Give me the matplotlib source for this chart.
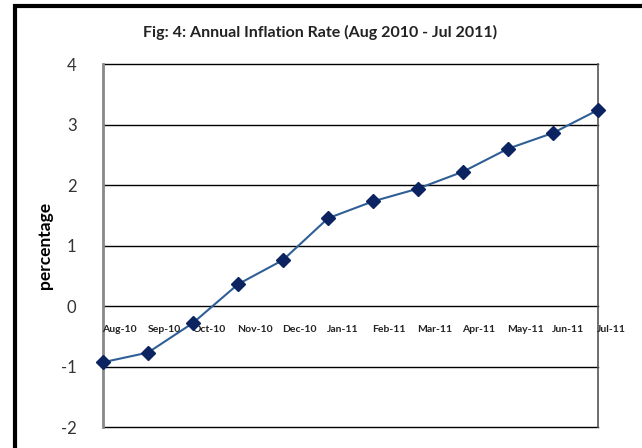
import matplotlib
matplotlib.use('Agg')
import matplotlib.pyplot as plt
from matplotlib.patches import Rectangle

# ---- data ----
months = ['Aug-10', 'Sep-10', 'Oct-10', 'Nov-10', 'Dec-10', 'Jan-11',
          'Feb-11', 'Mar-11', 'Apr-11', 'May-11', 'Jun-11', 'Jul-11']
inflation = [-0.93, -0.77, -0.28, 0.36, 0.76, 1.45,
             1.73, 1.94, 2.22, 2.60, 2.86, 3.24]
y_ticks = [-2, -1, 0, 1, 2, 3, 4]

title = 'Fig: 4: Annual Inflation Rate (Aug 2010 - Jul 2011)'

plt.rcParams['font.family'] = ['Lato', 'DejaVu Sans']
plt.rcParams['axes.unicode_minus'] = False

fig = plt.figure(figsize=(6.42, 4.48), dpi=100)
ax = fig.add_axes([103 / 642, 1 - 427 / 448, 495 / 642, 363 / 448])

# outer black frame (runs off the right/bottom edge in the original)
fig.add_artist(Rectangle((15 / 642, -0.1), 1.2, 1.1 - 6 / 448,
                         transform=fig.transFigure, fill=False,
                         edgecolor='black', linewidth=3, zorder=0))

x = list(range(len(months)))

# horizontal gridlines
for yv in y_ticks:
    ax.axhline(yv, color='black', linewidth=1.0, zorder=1, clip_on=False)

ax.plot(x, inflation, color='#2f5f96', linewidth=1.5, zorder=3)
ax.plot(x, inflation, linestyle='none', marker='D', markersize=7,
        color='#0b2461', zorder=4, clip_on=False)

ax.set_xlim(0, len(months) - 1)
ax.set_ylim(-2, 4)
ax.set_yticks(y_ticks)
ax.set_yticklabels([str(v) for v in y_ticks], fontsize=12, color='#333333')
ax.tick_params(axis='y', length=0, pad=19)
ax.set_xticks([])

for side in ['top', 'bottom']:
    ax.spines[side].set_visible(False)
ax.spines['left'].set_color('#888888')
ax.spines['left'].set_linewidth(2)
ax.spines['right'].set_color('#555555')
ax.spines['right'].set_linewidth(1.2)

# category labels sit just under the zero line
for xi, lab in zip(x, months):
    ax.annotate(lab, (xi, 0), xytext=(-0.5, -17), textcoords='offset points',
                ha='left', va='center', fontsize=7.5, fontweight='bold',
                color='#222222', annotation_clip=False)

ax.set_ylabel('percentage', fontsize=12.5, fontweight='bold', labelpad=6)

fig.text(320 / 642, 1 - 32 / 448, title, ha='center', va='center',
         fontsize=11.5, fontweight='bold', color='#222222')

fig.savefig('out.png', dpi=100)
